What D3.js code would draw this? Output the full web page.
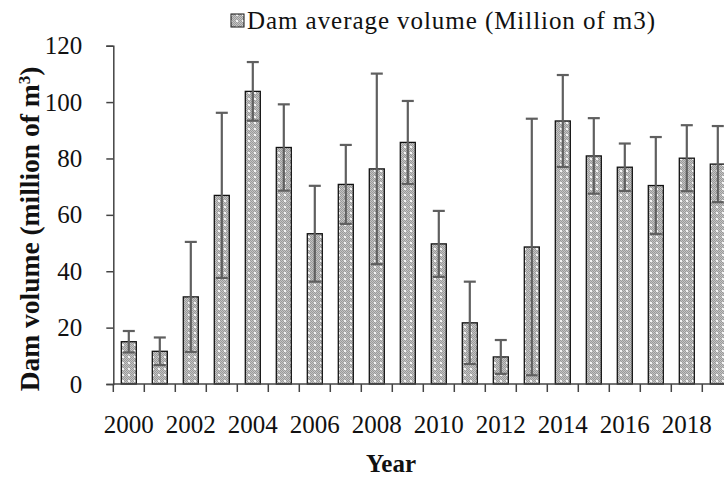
<!DOCTYPE html>
<html>
<head>
<meta charset="utf-8">
<script src="https://cdn.jsdelivr.net/npm/d3@7"></script>
<style>
  body { margin: 0; background: #fff; }
  svg, svg text { font-family: "Palatino Linotype", "Book Antiqua", "Liberation Serif", serif; }
</style>
</head>
<body>
<svg id="chart" width="724" height="477"></svg>
<script>
// data
var years = [2000, 2001, 2002, 2003, 2004, 2005, 2006, 2007, 2008, 2009,
             2010, 2011, 2012, 2013, 2014, 2015, 2016, 2017, 2018, 2019];
var volume = [15.0, 11.6, 30.9, 66.9, 103.8, 83.9, 53.3, 70.8, 76.3, 85.7,
              49.7, 21.7, 9.6, 48.6, 93.3, 80.9, 76.9, 70.4, 80.1, 78.0];
var errorBar = [3.8, 4.9, 19.5, 29.3, 10.4, 15.3, 17.0, 14.0, 33.8, 14.7,
                11.7, 14.6, 6.0, 45.5, 16.3, 13.4, 8.4, 17.2, 11.7, 13.5];
var yTicks = [0, 20, 40, 60, 80, 100, 120];
var xLabels = [2000, 2002, 2004, 2006, 2008, 2010, 2012, 2014, 2016, 2018];

var svg = d3.select("#chart");

// bar fill pattern (grey dotted grid)
var defs = svg.append("defs");
var pat = defs.append("pattern").attr("id", "dots")
  .attr("patternUnits", "userSpaceOnUse").attr("width", 6).attr("height", 6);
pat.append("rect").attr("width", 6).attr("height", 6).attr("fill", "#c4c4c4");
for (var i = 0; i < 6; i++)
  for (var j = 0; j < 6; j++)
    if ((i + j) % 2 == 0)
      pat.append("rect").attr("x", i).attr("y", j).attr("width", 1).attr("height", 1).attr("fill", "#9a9a9a");
pat.append("rect").attr("x", 2).attr("y", 2).attr("width", 2).attr("height", 2).attr("fill", "#f4f4f4");

var x = d3.scaleBand().domain(years).range([113.3, 113.3 + 20 * 31])
  .paddingInner(0.516).paddingOuter(0.258);
var y = d3.scaleLinear().domain([0, 120]).range([384, 45.7]);

// bars
svg.selectAll(".bar").data(years).enter().append("rect")
  .attr("class", "bar")
  .attr("x", function(d){ return x(d); })
  .attr("y", function(d, i){ return y(volume[i]); })
  .attr("width", x.bandwidth())
  .attr("height", function(d, i){ return y(0) - y(volume[i]); })
  .attr("fill", "url(#dots)")
  .attr("stroke", "#111")
  .attr("stroke-width", 1.3);

// error bars
var eb = svg.selectAll(".err").data(years).enter().append("g").attr("class", "err")
  .attr("stroke", "#5f5f5f").attr("stroke-width", 2.2);
eb.append("line")
  .attr("x1", function(d){ return x(d) + x.bandwidth() / 2; })
  .attr("x2", function(d){ return x(d) + x.bandwidth() / 2; })
  .attr("y1", function(d, i){ return y(volume[i] + errorBar[i]); })
  .attr("y2", function(d, i){ return y(Math.max(0, volume[i] - errorBar[i])); });
eb.append("line")
  .attr("x1", function(d){ return x(d) + x.bandwidth() / 2 - 6; })
  .attr("x2", function(d){ return x(d) + x.bandwidth() / 2 + 6; })
  .attr("y1", function(d, i){ return y(volume[i] + errorBar[i]); })
  .attr("y2", function(d, i){ return y(volume[i] + errorBar[i]); });
eb.append("line")
  .attr("x1", function(d){ return x(d) + x.bandwidth() / 2 - 6; })
  .attr("x2", function(d){ return x(d) + x.bandwidth() / 2 + 6; })
  .attr("y1", function(d, i){ return y(Math.max(0, volume[i] - errorBar[i])); })
  .attr("y2", function(d, i){ return y(Math.max(0, volume[i] - errorBar[i])); });

// y axis
var yAxis = svg.append("g").attr("transform", "translate(113.3,0)")
  .call(d3.axisLeft(y).tickValues(yTicks).tickSize(7).tickPadding(24));
yAxis.attr("font-family", null).attr("font-size", null);
yAxis.select(".domain").attr("stroke", "#444").attr("stroke-width", 1.5);
yAxis.selectAll(".tick line").attr("stroke", "#444").attr("stroke-width", 1.5);
yAxis.selectAll("text").attr("font-size", 25).attr("fill", "#111");

// x axis: ticks between categories, labels every other year
svg.append("line").attr("x1", 113.3).attr("x2", 724).attr("y1", y(0)).attr("y2", y(0))
  .attr("stroke", "#444").attr("stroke-width", 1.5);
svg.selectAll(".xtick").data(years).enter().append("line")
  .attr("x1", function(d){ return x(d) - x.step() * x.paddingInner() / 2; })
  .attr("x2", function(d){ return x(d) - x.step() * x.paddingInner() / 2; })
  .attr("y1", y(0)).attr("y2", y(0) + 8)
  .attr("stroke", "#444").attr("stroke-width", 1.5);
svg.selectAll(".xlab").data(xLabels).enter().append("text")
  .attr("x", function(d){ return x(d) + x.bandwidth() / 2; })
  .attr("y", 433)
  .attr("text-anchor", "middle")
  .attr("font-size", 25).attr("fill", "#111")
  .text(function(d){ return d; });

// axis titles
svg.append("text").attr("x", 391).attr("y", 472).attr("text-anchor", "middle")
  .attr("font-size", 25).attr("font-weight", "bold").attr("fill", "#111").text("Year");
var yt = svg.append("text").attr("transform", "translate(39,229) rotate(-90)")
  .attr("text-anchor", "middle").attr("font-size", 27.5).attr("font-weight", "bold").attr("fill", "#111");
yt.append("tspan").text("Dam volume (million of m");
yt.append("tspan").attr("dy", -9).attr("font-size", 17).text("3");
yt.append("tspan").attr("dy", 9).text(")");

// legend
svg.append("rect").attr("x", 231).attr("y", 14).attr("width", 13).attr("height", 13)
  .attr("fill", "url(#dots)").attr("stroke", "#111").attr("stroke-width", 1);
svg.append("text").attr("x", 247).attr("y", 29).attr("font-size", 25).attr("fill", "#111")
  .attr("textLength", 408).attr("lengthAdjust", "spacing")
  .text("Dam average volume (Million of m3)");
</script>
</body>
</html>
